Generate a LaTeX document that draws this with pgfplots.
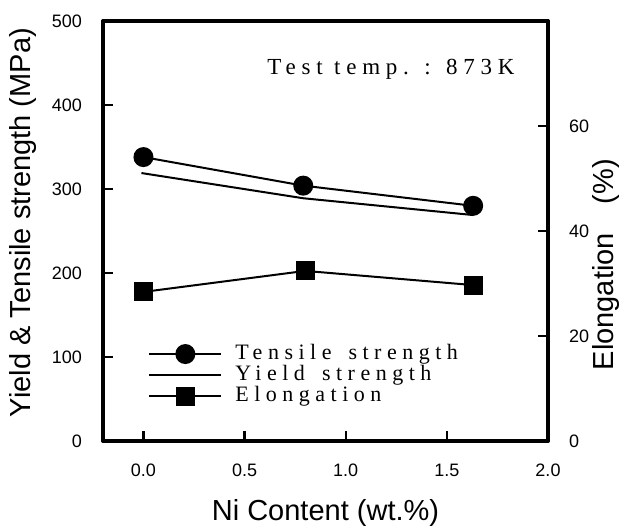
\documentclass[border=0pt]{standalone}
\usepackage{fontspec}
\setmainfont{Liberation Sans}
\newfontfamily\serifls[LetterSpace=25]{Liberation Serif}
\usepackage{pgfplots}
\pgfplotsset{compat=1.18}

\begin{document}
\begin{tikzpicture}
\pgfplotsset{
  common/.style={
    scale only axis, width=222.5pt, height=210pt,
    xmin=-0.2, xmax=2.0,
    axis line style={line width=1.6pt, line join=round},
    tick align=inside, major tick length=5pt,
    every tick/.style={line width=1.2pt, black},
    tick label style={font=\fontsize{9}{10}\selectfont},
    /pgf/number format/assume math mode=true,
    label style={font=\fontsize{14.5}{16}\selectfont},
  },
  tens/.style={black, line width=1pt, mark=*, mark size=4.5pt, mark options={solid, fill=black}},
  yld/.style={black, line width=1pt, no markers},
  elo/.style={black, line width=1pt, mark=square*, mark size=4.25pt, mark options={solid, fill=black}},
}
\begin{axis}[common,
  ymin=0, ymax=500, ytick={0,100,...,500}, ytick pos=left, xtick pos=bottom,
  xtick={0,0.5,1,1.5,2}, xticklabels={0.0,0.5,1.0,1.5,2.0},
  xticklabel style={yshift=-8pt},
  yticklabel style={xshift=-7pt},
  xlabel={Ni Content (wt.\%)},
  xlabel style={at={(axis description cs:0.5,0)}, anchor=center, yshift=-36pt},
  ylabel={Yield \& Tensile strength (MPa)},
  ylabel style={at={(axis description cs:-0.18,0.52)}, anchor=center},
]
\addplot[tens] coordinates {(0,338) (0.79,304) (1.63,280)};
\addplot[yld] coordinates {(-0.01,319) (0.79,289) (1.63,269)};
\node[font=\serifls\fontsize{11.5}{12}\selectfont] at (rel axis cs:0.647,0.886) {Test temp. : 873K};
\end{axis}
\begin{axis}[common,
  ymin=0, ymax=80, ytick={0,20,40,60}, ytick pos=right,
  xtick=\empty,
  yticklabel style={xshift=7pt},
  ylabel={Elongation\quad(\%)},
  ylabel style={at={(axis description cs:1.13,0.42)}, anchor=center, rotate=0},
  legend style={at={(rel axis cs:0.101,0.233)}, anchor=north west, draw=none, fill=none,
    inner sep=0pt, row sep=0pt,
    font=\serifls\fontsize{11}{12}\selectfont,
    nodes={inner sep=0pt, text height=8pt, text depth=2.5pt},
    /tikz/every odd column/.append style={column sep=6.5pt}},
  legend cell align=left,
  legend image code/.code={\draw[mark repeat=2,mark phase=2,#1] plot coordinates {(0pt,0pt) (18pt,0pt) (36pt,0pt)};},
]
\addlegendimage{tens}
\addlegendentry{Tensile\hspace{3pt} strength}
\addlegendimage{yld}
\addlegendentry{Yield\hspace{3pt} strength}
\addplot[elo] coordinates {(0,28.4) (0.80,32.4) (1.63,29.7)};
\addlegendentry{Elongation}
\end{axis}
\pgfresetboundingbox
\path (current axis.south west) ++(-51.5pt,-43pt) rectangle ++(313pt,263.5pt);
\end{tikzpicture}
\end{document}
